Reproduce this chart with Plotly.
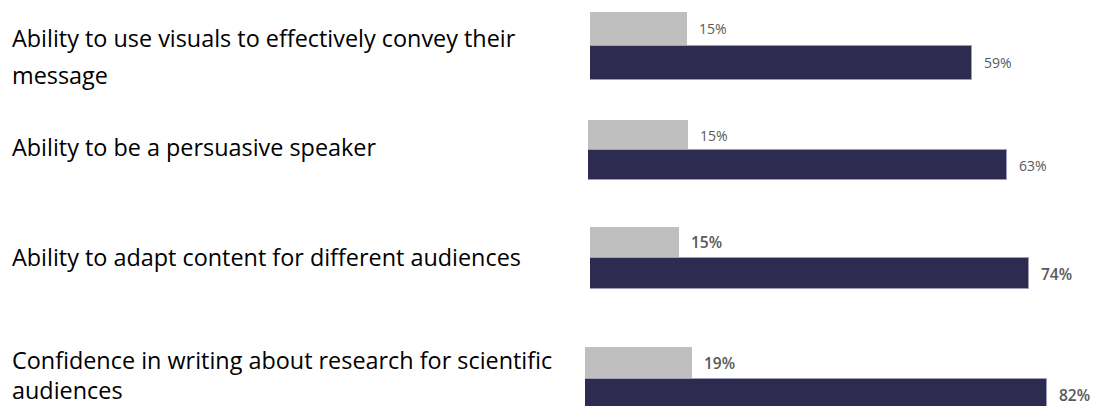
import plotly.graph_objects as go

# ---------------- data ----------------
categories = [
    "Ability to use visuals to effectively convey their<br>message",
    "Ability to be a persuasive speaker",
    "Ability to adapt content for different audiences",
    "Confidence in writing about research for scientific<br>audiences",
]
before = [15, 15, 15, 19]
after = [59, 63, 74, 82]
series_names = ["Before", "After"]

# ---------------- layout constants (window pixels) ----------------
W, H = 1107, 406
OFF = 8  # default page body margin in which the figure sits
x_start_px = [590, 588, 590, 585]
px_per_pct = [6.47, 6.65, 5.93, 5.64]
row_top_px = [12, 120, 227, 347]
row_bot_px = [80, 180, 289, 411]
label_line_px = [[38, 75], [147], [257], [360, 390]]
value_font_size = [14, 14, 15.5, 15.5]
value_font_weight = [400, 400, 600, 600]
label_x_px = 12

GRAY = "#bfbfbf"
NAVY = "#2d2b4f"
NAVY_EDGE = "#9d9dba"
VALUE_COLOR = "#595959"
FONT = "Open Sans"

fig = go.Figure()
annotations = []
layout_axes = {}

for i, cat in enumerate(categories):
    n = i + 1
    xa = "x" if n == 1 else f"x{n}"
    ya = "y" if n == 1 else f"y{n}"
    xkey = "xaxis" if n == 1 else f"xaxis{n}"
    ykey = "yaxis" if n == 1 else f"yaxis{n}"

    fig.add_trace(go.Bar(
        x=[before[i]], y=[cat], orientation="h", name=series_names[0],
        marker=dict(color=GRAY, line=dict(width=0)),
        xaxis=xa, yaxis=ya, showlegend=False, hoverinfo="x",
    ))
    fig.add_trace(go.Bar(
        x=[after[i]], y=[cat], orientation="h", name=series_names[1],
        marker=dict(color=NAVY, line=dict(color=NAVY_EDGE, width=1)),
        xaxis=xa, yaxis=ya, showlegend=False, hoverinfo="x",
    ))

    s = x_start_px[i] - OFF
    k = px_per_pct[i]
    layout_axes[xkey] = dict(
        domain=[s / W, 1.0], range=[0, (W - s) / k], visible=False,
        anchor=ya, fixedrange=True,
    )
    top, bot = row_top_px[i] - OFF, row_bot_px[i] - OFF
    dt, db = max(top, 0), min(bot, H)

    def val(p, top=top, bot=bot):
        return -0.5 + (p - top) / (bot - top)

    layout_axes[ykey] = dict(
        domain=[1 - db / H, 1 - dt / H], type="category",
        range=[val(db), val(dt)], visible=False, anchor=xa, fixedrange=True,
    )

    quarter = (bot - top) / 4.0
    for v, shift in ((before[i], quarter), (after[i], -quarter)):
        annotations.append(dict(
            x=v, y=cat, xref=xa, yref=ya, text=f"{v}%", showarrow=False,
            xanchor="left", yanchor="middle", xshift=10, yshift=shift,
            font=dict(family=FONT, size=value_font_size[i], color=VALUE_COLOR,
                      weight=value_font_weight[i]),
        ))

    lines = cat.split("<br>")
    for line, py in zip(lines, label_line_px[i]):
        annotations.append(dict(
            x=(label_x_px - OFF - 2) / W, y=1 - (py - OFF) / H,
            xref="paper", yref="paper", text=line,
            showarrow=False, xanchor="left", yanchor="middle", align="left",
            font=dict(family=FONT, size=23.4, color="#000000"),
        ))

fig.update_layout(
    width=W, height=H,
    margin=dict(l=0, r=0, t=0, b=0),
    paper_bgcolor="white", plot_bgcolor="white",
    barmode="group", bargap=0, bargroupgap=0,
    annotations=annotations,
    showlegend=False,
    **layout_axes,
)

fig.write_html("out.html")
